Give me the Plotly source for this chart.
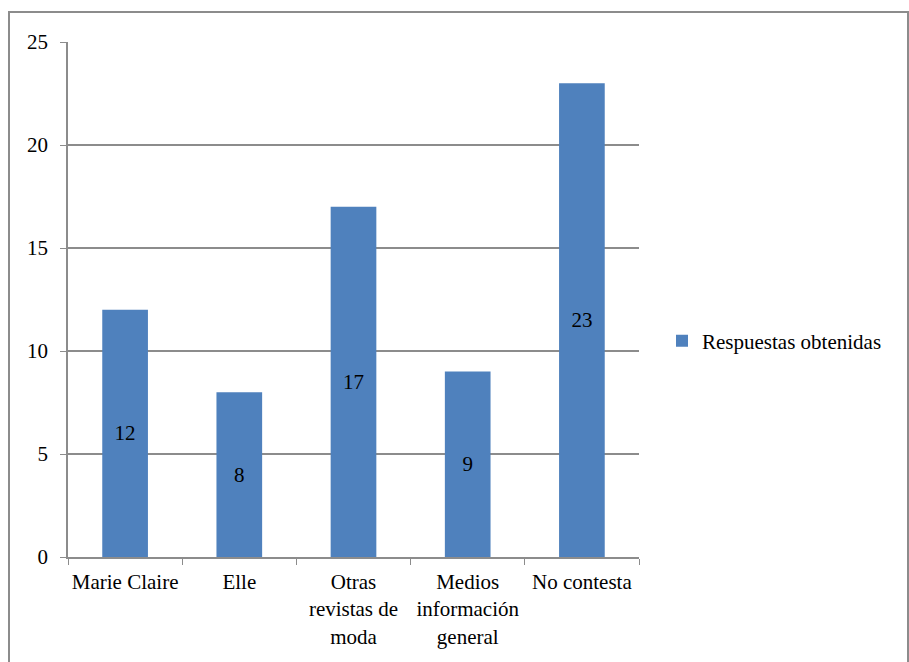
import plotly.graph_objects as go

categories = ["Marie Claire", "Elle", "Otras<br>revistas de<br>moda", "Medios<br>información<br>general", "No contesta"]
values = [12, 8, 17, 9, 23]
series_name = "Respuestas obtenidas"
y_ticks = [0, 5, 10, 15, 20, 25]

FONT = "Liberation Serif"
FS = 21
GRAY = "#8c8c8c"

fig = go.Figure()
fig.add_trace(go.Bar(
    x=categories, y=values, name=series_name,
    marker=dict(color="#4f81bd", line=dict(width=0)),
    width=0.4,
    text=[str(v) for v in values], textposition="inside", insidetextanchor="middle",
    textfont=dict(family=FONT, size=FS, color="black"),
    textangle=0,
))

L, R, T, B = 68, 270, 42, 105
W, H = 909, 662
pw, ph = W - L - R, H - T - B

fig.update_layout(
    width=W, height=H,
    margin=dict(l=L, r=R, t=T, b=B, autoexpand=False),
    plot_bgcolor="white", paper_bgcolor="white",
    font=dict(family=FONT, size=FS, color="black"),
    showlegend=True,
    legend=dict(x=(662 - L) / pw, y=(H - B - 341) / ph, xanchor="left", yanchor="middle",
                font=dict(family=FONT, size=FS, color="black"), bgcolor="rgba(0,0,0,0)"),
    bargap=0.6,
    uniformtext=dict(mode=False),
)
fig.update_yaxes(
    range=[0, 25], tickvals=y_ticks, showgrid=True, gridcolor=GRAY, gridwidth=1.5,
    showline=True, linecolor=GRAY, linewidth=1.5, ticks="outside", ticklen=6, tickcolor=GRAY,
    zeroline=False, tickfont=dict(family=FONT, size=FS), ticklabelstandoff=8, automargin=False,
)
fig.update_xaxes(
    showline=True, linecolor=GRAY, linewidth=1.5, ticks="outside", ticklen=6, tickcolor=GRAY,
    tickson="boundaries", showgrid=False, tickfont=dict(family=FONT, size=FS),
    ticklabelstandoff=5, tickangle=0, automargin=False,
)
fig.add_shape(type="rect", xref="paper", yref="paper",
              x0=(9 - L) / pw, x1=(908 - L) / pw,
              y0=(H - B - 700) / ph, y1=(H - B - 12) / ph,
              line=dict(color=GRAY, width=2), fillcolor="rgba(0,0,0,0)", layer="below")

fig.write_html("out.html")
